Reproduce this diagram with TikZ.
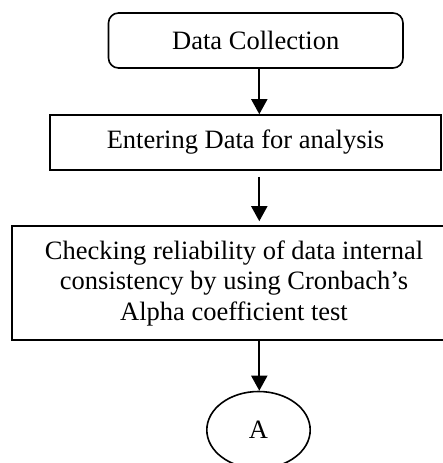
\documentclass[tikz,border=0pt]{standalone}
\usepackage{fontspec}
\setmainfont{Liberation Serif}
\usetikzlibrary{arrows.meta,shapes.geometric}

\tikzset{
  flowbox/.style={draw, line width=1.6pt, inner sep=0pt, align=center,
    font=\fontsize{26.5}{30.5}\selectfont},
  flowarrow/.style={line width=1.8pt, -{Triangle[width=16pt,length=15pt]}},
}

\begin{document}
\begin{tikzpicture}[x=1pt,y=-1pt]
  \useasboundingbox (0,0) rectangle (443,463);

  % vertical line shared by all connectors
  \coordinate (spine) at (259.3,0);

  \node[flowbox, rounded corners=10pt, minimum width=294.5pt, minimum height=55pt]
    (collect) at (255.75,40.5) {Data Collection};

  \node[flowbox, minimum width=391pt, minimum height=55pt]
    (enter) at (245.5,142.5) {Entering Data for analysis};

  \node[flowbox, minimum width=444pt, minimum height=114pt]
    (check) at (234,283)
    {Checking reliability of data internal\\
     consistency by using Cronbach’s\\
     Alpha coefficient test};

  \node[flowbox, ellipse, minimum width=103.4pt, minimum height=77pt]
    (conn) at (258.5,430) {A};

  \draw[flowarrow] (spine |- collect.south) -- (spine |- enter.north);
  \draw[flowarrow, shorten <=6pt, shorten >=4pt] (spine |- enter.south) -- (spine |- check.north);
  \draw[flowarrow] (spine |- check.south) -- (spine |- conn.north);
\end{tikzpicture}
\end{document}
